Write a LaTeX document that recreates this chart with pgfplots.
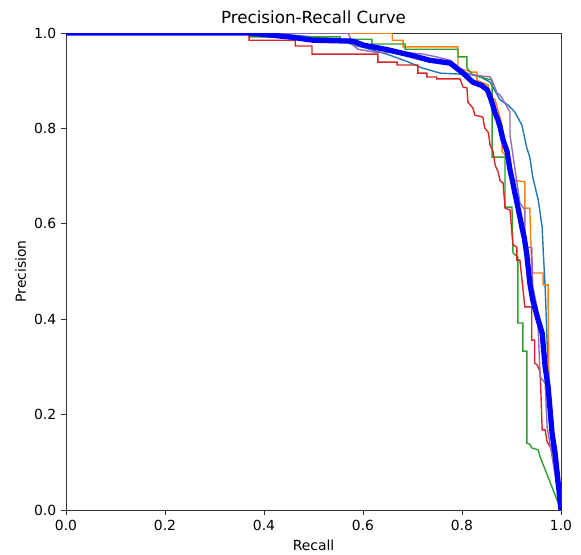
\documentclass[border=0pt]{standalone}
\usepackage{pgfplots}
\pgfplotsset{compat=1.18}
\usepackage{fontspec}
\setmainfont{DejaVu Sans}
\definecolor{c0}{HTML}{1F77B4}
\definecolor{c1}{HTML}{FF7F0E}
\definecolor{c2}{HTML}{2CA02C}
\definecolor{c3}{HTML}{D62728}
\definecolor{c4}{HTML}{9467BD}
\begin{document}
\begin{tikzpicture}
\begin{axis}[
  name=ax,
  scale only axis,
  width=356pt, height=343pt,
  xmin=0, xmax=1, ymin=0, ymax=1,
  xtick={0,0.2,0.4,0.6,0.8,1.0},
  ytick={0,0.2,0.4,0.6,0.8,1.0},
  xticklabel style={/pgf/number format/.cd,fixed,fixed zerofill,precision=1,assume math mode=true},
  yticklabel style={/pgf/number format/.cd,fixed,fixed zerofill,precision=1,assume math mode=true},
  tick label style={font=\fontsize{10}{12}\selectfont},
  tick align=outside,
  xtick pos=bottom, ytick pos=left,
  major tick length=3.5pt,
  tick style={black!80, line width=0.6pt},
  axis line style={black!80, line width=0.6pt},
  xlabel={Recall}, ylabel={Precision},
  label style={font=\fontsize{10}{12}\selectfont},
  ylabel style={yshift=-1pt},
  title={Precision-Recall Curve},
  title style={font=\fontsize{12}{14}\selectfont, yshift=-3pt},
  clip=true,
]
\addplot[c0, line width=1pt] coordinates {(0,1)(0.45,1)(0.453,0.996)(0.50,0.992)(0.554,0.987)(0.58,0.975)(0.60,0.970)(0.648,0.956)(0.69,0.94)(0.719,0.927)(0.756,0.916)(0.796,0.914)(0.830,0.912)(0.857,0.897)(0.877,0.860)(0.893,0.849)(0.907,0.834)(0.921,0.807)(0.931,0.759)(0.937,0.740)(0.943,0.698)(0.954,0.650)(0.962,0.593)(0.964,0.545)(0.968,0.468)(0.972,0.35)(0.978,0.231)(0.984,0.14)(0.99,0.084)(1,0)};
\addplot[c1, line width=1pt] coordinates {(0,1)(0.659,1)(0.659,0.985)(0.681,0.985)(0.681,0.971)(0.792,0.971)(0.792,0.927)(0.820,0.918)(0.830,0.918)(0.830,0.901)(0.853,0.891)(0.853,0.870)(0.867,0.860)(0.881,0.807)(0.881,0.751)(0.897,0.734)(0.903,0.692)(0.927,0.688)(0.927,0.633)(0.937,0.633)(0.941,0.497)(0.964,0.497)(0.964,0.472)(0.974,0.472)(0.974,0.440)(0.976,0.231)(0.982,0.126)(0.99,0.063)(1,0)};
\addplot[c2, line width=1pt] coordinates {(0,1)(0.37,1)(0.37,0.992)(0.554,0.992)(0.554,0.987)(0.618,0.987)(0.618,0.977)(0.685,0.977)(0.685,0.966)(0.792,0.966)(0.792,0.950)(0.810,0.950)(0.810,0.927)(0.822,0.912)(0.861,0.901)(0.861,0.740)(0.887,0.740)(0.887,0.635)(0.901,0.635)(0.903,0.539)(0.913,0.530)(0.913,0.392)(0.923,0.392)(0.923,0.333)(0.931,0.333)(0.931,0.140)(0.937,0.138)(0.941,0.130)(0.954,0.126)(0.958,0.111)(1,0)};
\addplot[c3, line width=1pt] coordinates {(0,1)(0.37,1)(0.37,0.985)(0.463,0.985)(0.463,0.973)(0.497,0.973)(0.497,0.956)(0.630,0.956)(0.630,0.939)(0.669,0.939)(0.669,0.933)(0.711,0.933)(0.711,0.916)(0.729,0.916)(0.729,0.908)(0.749,0.908)(0.749,0.904)(0.796,0.904)(0.802,0.887)(0.810,0.885)(0.812,0.855)(0.822,0.843)(0.826,0.828)(0.842,0.824)(0.846,0.801)(0.853,0.792)(0.857,0.765)(0.863,0.751)(0.867,0.723)(0.873,0.709)(0.877,0.690)(0.883,0.686)(0.887,0.633)(0.897,0.629)(0.903,0.556)(0.911,0.551)(0.911,0.524)(0.917,0.524)(0.927,0.426)(0.941,0.426)(0.941,0.356)(0.947,0.356)(0.947,0.308)(0.952,0.304)(0.958,0.289)(0.962,0.168)(0.968,0.168)(0.972,0.143)(0.984,0.122)(1,0)};
\addplot[c4, line width=1pt] coordinates {(0,1)(0.57,1)(0.58,0.975)(0.59,0.966)(0.624,0.960)(0.70,0.958)(0.721,0.956)(0.749,0.950)(0.776,0.943)(0.806,0.918)(0.822,0.912)(0.857,0.908)(0.863,0.895)(0.871,0.874)(0.877,0.870)(0.887,0.853)(0.897,0.834)(0.897,0.786)(0.917,0.644)(0.927,0.629)(0.927,0.551)(0.941,0.551)(0.943,0.468)(0.952,0.423)(0.958,0.279)(0.968,0.266)(0.972,0.174)(1,0)};
\addplot[blue, line width=3.8pt, line join=round] coordinates {(0,1)(0.37,1)(0.45,0.992)(0.5,0.985)(0.58,0.983)(0.6,0.975)(0.65,0.965)(0.695,0.954)(0.735,0.943)(0.776,0.937)(0.802,0.916)(0.822,0.897)(0.840,0.890)(0.851,0.881)(0.857,0.866)(0.862,0.850)(0.867,0.832)(0.872,0.820)(0.877,0.803)(0.883,0.776)(0.891,0.752)(0.897,0.713)(0.902,0.690)(0.907,0.664)(0.913,0.635)(0.921,0.593)(0.926,0.570)(0.931,0.535)(0.937,0.476)(0.943,0.44)(0.954,0.398)(0.962,0.371)(0.968,0.30)(0.974,0.258)(0.978,0.21)(0.982,0.161)(0.988,0.12)(1,0)};
\end{axis}
\pgfresetboundingbox
\path ([xshift=-47.5pt,yshift=-31.7pt]ax.south west) rectangle ([xshift=14.4pt,yshift=23.8pt]ax.north east);
\end{tikzpicture}
\end{document}
